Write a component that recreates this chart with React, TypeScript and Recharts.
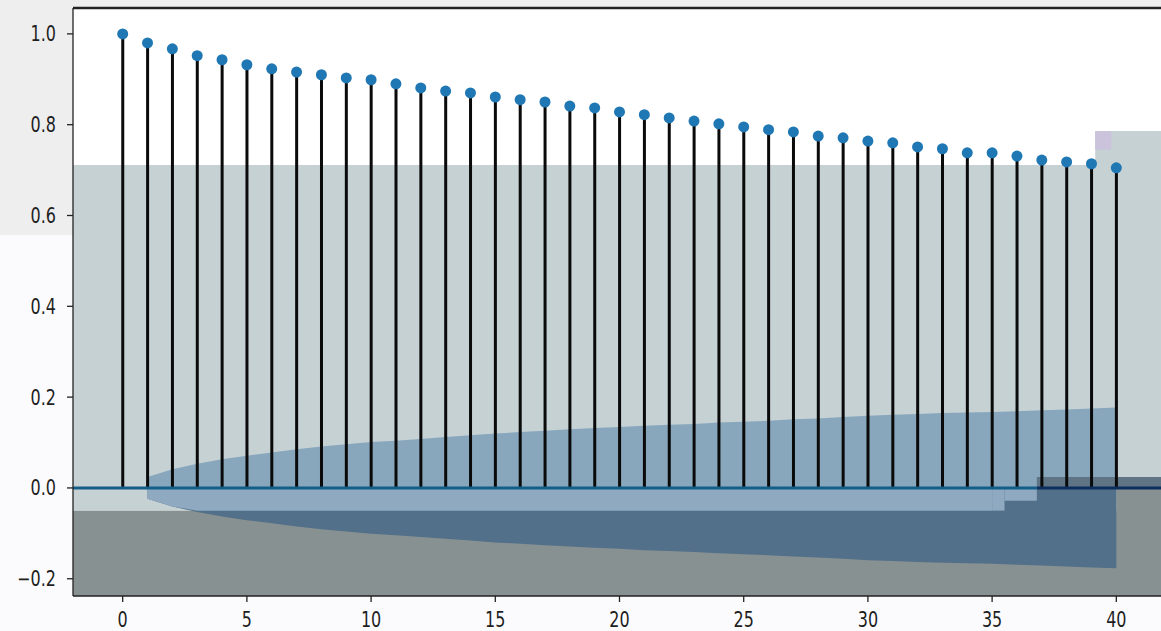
import React from "react";
import {
  ComposedChart,
  Area,
  Bar,
  Scatter,
  XAxis,
  YAxis,
  CartesianGrid,
  ReferenceArea,
  ReferenceLine,
} from "recharts";

// lags shown on the x axis
const lags = [
  0, 1, 2, 3, 4, 5, 6, 7, 8, 9, 10, 11, 12, 13, 14, 15, 16, 17, 18, 19, 20,
  21, 22, 23, 24, 25, 26, 27, 28, 29, 30, 31, 32, 33, 34, 35, 36, 37, 38, 39, 40,
];

// autocorrelation per lag
const acfValues = [
  1.0, 0.98, 0.967, 0.952, 0.943, 0.932, 0.923, 0.916, 0.91, 0.903, 0.899,
  0.89, 0.881, 0.874, 0.87, 0.861, 0.855, 0.85, 0.841, 0.837, 0.828, 0.822,
  0.815, 0.808, 0.802, 0.795, 0.789, 0.784, 0.775, 0.771, 0.764, 0.76, 0.751,
  0.747, 0.738, 0.738, 0.731, 0.722, 0.718, 0.714, 0.705,
];

// half-width of the confidence band (none at lag 0)
const confWidth = [
  null, 0.024, 0.041, 0.053, 0.063, 0.071, 0.078, 0.085, 0.091, 0.096, 0.101,
  0.104, 0.108, 0.112, 0.116, 0.12, 0.123, 0.126, 0.129, 0.132, 0.134, 0.137,
  0.139, 0.141, 0.144, 0.146, 0.148, 0.151, 0.153, 0.156, 0.159, 0.161, 0.163,
  0.165, 0.166, 0.167, 0.169, 0.171, 0.173, 0.175, 0.177,
];

const xTicks = [0, 5, 10, 15, 20, 25, 30, 35, 40];
const yTicks = [-0.2, 0, 0.2, 0.4, 0.6, 0.8, 1.0];
const Y_MIN = -0.238;
const Y_MAX = 1.057;

const rows = lags.map((lag, i) => {
  const c = confWidth[i];
  return {
    lag,
    acf: acfValues[i],
    up: c == null ? undefined : [0, c],
    low: c == null ? undefined : [-c, 0],
    strip: c == null || lag > 35 ? undefined : [Math.max(-c, -0.05), 0],
  };
});

const FONT = "'DejaVu Sans', sans-serif";

function XTick(props: any) {
  const { x, y, payload } = props;
  return (
    <g transform={`translate(${x},${y})`}>
      <text
        textAnchor="middle"
        dy="0.71em"
        transform="scale(1,1.3)"
        fill="#1e1e1e"
        fontSize={16}
        fontFamily={FONT}
      >
        {payload.value}
      </text>
    </g>
  );
}

function YTick(props: any) {
  const { x, y, payload } = props;
  const v = Number(payload.value);
  const label = (v < 0 ? "\u2212" : "") + Math.abs(v).toFixed(1);
  return (
    <g transform={`translate(${x},${y})`}>
      <text
        textAnchor="end"
        dy="0.355em"
        transform="scale(1,1.3)"
        fill="#1e1e1e"
        fontSize={16}
        fontFamily={FONT}
      >
        {label}
      </text>
    </g>
  );
}

export default function App() {
  return (
    <div
      style={{
        position: "absolute",
        left: 0,
        top: 0,
        width: 1161,
        height: 631,
        overflow: "hidden",
        background: "#fbfbfd",
      }}
    >
      {/* grey patches behind the axes in the screenshot */}
      <div style={{ position: "absolute", left: 0, top: 0, width: 1161, height: 8, background: "#eeeeee" }} />
      <div style={{ position: "absolute", left: 0, top: 0, width: 73, height: 235, background: "#eeeeee" }} />
      <div style={{ position: "absolute", left: 0, top: 0 }}>
        <ComposedChart
          width={1166}
          height={631}
          data={rows}
          margin={{ top: 8, right: 0, bottom: 0, left: 0 }}
        >
          <CartesianGrid fill="#ffffff" horizontal={false} vertical={false} />
          <XAxis
            dataKey="lag"
            type="number"
            domain={[-2, 42]}
            ticks={xTicks}
            allowDataOverflow
            height={35}
            tickSize={6}
            tickMargin={10}
            stroke="#222"
            strokeWidth={1.3}
            tick={(p: any) => <XTick {...p} />}
          />
          <YAxis
            type="number"
            domain={[Y_MIN, Y_MAX]}
            ticks={yTicks}
            allowDataOverflow
            width={73}
            tickSize={6}
            tickMargin={11}
            stroke="#222"
            strokeWidth={1.3}
            tick={(p: any) => <YTick {...p} />}
          />

          {/* screenshot overlay patches */}
          <ReferenceArea x1={-2} x2={42} y1={-0.05} y2={0.711} fill="#c6d1d4" fillOpacity={1} stroke="none" />
          <ReferenceArea x1={39.15} x2={42} y1={0.711} y2={0.786} fill="#c6d1d4" fillOpacity={1} stroke="none" />
          <ReferenceArea x1={39.15} x2={39.8} y1={0.745} y2={0.786} fill="#cbc3dc" fillOpacity={1} stroke="none" />
          <ReferenceArea x1={-2} x2={42} y1={Y_MIN} y2={-0.05} fill="#889191" fillOpacity={1} stroke="none" />
          <ReferenceArea x1={40} x2={42} y1={Y_MIN} y2={0} fill="#889191" fillOpacity={1} stroke="none" />

          <Area dataKey="low" type="linear" fill="#52708a" fillOpacity={1} stroke="none" isAnimationActive={false} />
          <Area dataKey="strip" type="linear" fill="#8ea9c0" fillOpacity={1} stroke="none" isAnimationActive={false} />
          <Area dataKey="up" type="linear" fill="#88a7bd" fillOpacity={1} stroke="none" isAnimationActive={false} />

          <ReferenceArea x1={35} x2={35.5} y1={-0.05} y2={0} fill="#8ea9c0" fillOpacity={1} stroke="none" />
          <ReferenceArea x1={35.5} x2={36.8} y1={-0.028} y2={0} fill="#8ea9c0" fillOpacity={1} stroke="none" />
          <ReferenceArea x1={36.8} x2={42} y1={0} y2={0.024} fill="#5f7586" fillOpacity={1} stroke="none" />

          <Bar dataKey="acf" barSize={3} fill="#0a0a0a" isAnimationActive={false} />

          <ReferenceLine
            segment={[{ x: -2, y: 0 }, { x: 36.8, y: 0 }]}
            stroke="#125e88"
            strokeWidth={3}
          />
          <ReferenceLine
            segment={[{ x: 36.8, y: 0 }, { x: 42, y: 0 }]}
            stroke="#0d2f5e"
            strokeWidth={3}
          />
          {/* top spine */}
          <ReferenceLine y={Y_MAX} stroke="#222" strokeWidth={2.6} />

          <Scatter
            dataKey="acf"
            fill="#1f77b4"
            isAnimationActive={false}
            shape={(p: any) => <circle cx={p.cx} cy={p.cy} r={5.5} fill="#1f77b4" />}
          />
        </ComposedChart>
      </div>
    </div>
  );
}
